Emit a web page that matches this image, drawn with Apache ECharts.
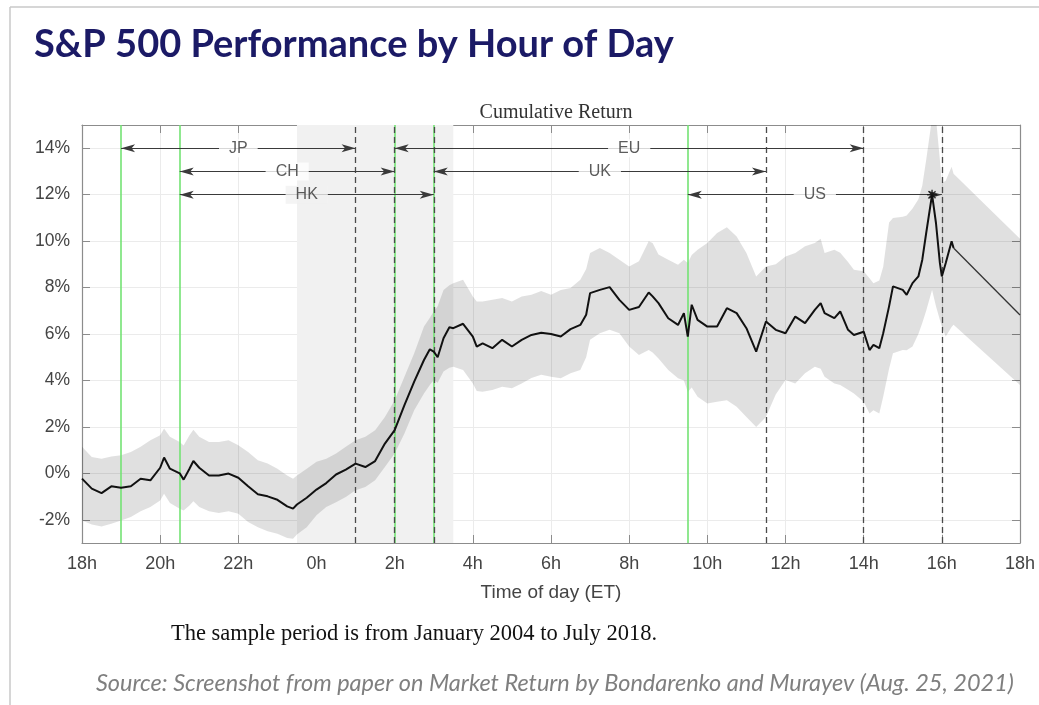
<!DOCTYPE html>
<html>
<head>
<meta charset="utf-8">
<script src="https://cdn.jsdelivr.net/npm/echarts@6/dist/echarts.min.js"></script>
<style>
  html, body { margin: 0; padding: 0; background: #fff; }
  #chart { width: 1039px; height: 705px; }
</style>
</head>
<body>
<div id="chart"></div>
<script>
// --- data: hours after 18:00 ET, cumulative return in % ---
const hours = [
  0, 0.25, 0.5, 0.75, 1, 1.25, 1.5, 1.75, 2, 2.1,
  2.25, 2.5, 2.6, 2.75, 2.85, 3, 3.25, 3.5, 3.75, 4,
  4.25, 4.5, 4.75, 5, 5.25, 5.4, 5.5, 5.75, 6, 6.25,
  6.5, 6.75, 7, 7.25, 7.5, 7.75, 8, 8.25, 8.5, 8.75,
  8.9, 9, 9.1, 9.25, 9.4, 9.5, 9.75, 10, 10.1, 10.25,
  10.5, 10.75, 11, 11.25, 11.5, 11.75, 12, 12.25, 12.5, 12.75,
  12.9, 13, 13.25, 13.5, 13.75, 14, 14.25, 14.5, 14.6, 14.75,
  15, 15.25, 15.4, 15.5, 15.6, 15.75, 16, 16.25, 16.5, 16.75,
  17, 17.25, 17.5, 17.75, 18, 18.25, 18.5, 18.75, 18.9, 19,
  19.25, 19.4, 19.6, 19.75, 20, 20.15, 20.25, 20.4, 20.5, 20.65,
  20.75, 21, 21.1, 21.25, 21.4, 21.5, 21.6, 21.75, 21.85, 21.95,
  22, 22.1, 22.25, 22.3, 24
]
const meanRet = [
  -0.23, -0.66, -0.85, -0.56, -0.62, -0.56, -0.23, -0.30, 0.24, 0.68,
  0.20, 0.00, -0.27, 0.20, 0.53, 0.24, -0.09, -0.09, -0.01, -0.19,
  -0.56, -0.90, -0.99, -1.14, -1.42, -1.52, -1.34, -1.05, -0.70, -0.42,
  -0.05, 0.16, 0.42, 0.27, 0.53, 1.28, 1.86, 2.94, 3.95, 4.88,
  5.34, 5.24, 5.00, 5.82, 6.29, 6.25, 6.44, 5.89, 5.46, 5.60,
  5.39, 5.75, 5.46, 5.75, 5.96, 6.05, 6.00, 5.89, 6.21, 6.39,
  6.83, 7.76, 7.90, 8.02, 7.47, 7.04, 7.16, 7.79, 7.62, 7.33,
  6.68, 6.39, 6.90, 5.89, 7.26, 6.61, 6.32, 6.32, 7.11, 6.90,
  6.25, 5.24, 6.54, 6.18, 6.03, 6.75, 6.47, 7.04, 7.33, 6.90,
  6.68, 6.97, 6.18, 5.96, 6.10, 5.31, 5.53, 5.39, 6.03, 7.19,
  8.05, 7.90, 7.69, 8.19, 8.48, 9.20, 10.35, 12.00, 10.78, 9.06,
  8.48, 9.06, 9.99, 9.70, 6.82
]
const upperBand = [
  1.14, 0.70, 0.63, 0.73, 0.78, 0.92, 1.14, 1.42, 1.64, 1.93,
  1.57, 1.35, 1.20, 1.64, 1.88, 1.57, 1.35, 1.35, 1.42, 1.21,
  0.92, 0.56, 0.42, 0.20, -0.09, -0.23, -0.09, 0.20, 0.50, 0.63,
  0.85, 1.14, 1.43, 1.57, 1.86, 2.43, 3.15, 4.16, 5.17, 6.32,
  6.70, 6.97, 7.20, 7.90, 8.10, 8.19, 8.34, 7.62, 7.40, 7.40,
  7.47, 7.55, 7.40, 7.62, 7.69, 7.85, 7.69, 7.90, 7.98, 8.34,
  8.80, 9.49, 9.70, 9.49, 9.20, 8.91, 9.13, 9.99, 9.92, 9.42,
  9.20, 8.98, 9.20, 9.06, 9.40, 9.63, 9.92, 10.35, 10.60, 10.20,
  9.49, 8.48, 8.91, 9.00, 9.34, 9.49, 9.78, 9.92, 10.10, 9.49,
  9.63, 9.50, 9.10, 8.77, 8.70, 8.40, 8.19, 8.30, 8.90, 10.80,
  11.00, 11.05, 11.10, 11.40, 11.80, 12.40, 13.50, 15.30, 15.30, 13.50,
  12.50, 12.60, 13.20, 12.90, 10.10
]
const lowerBand = [
  -2.03, -2.20, -2.29, -2.17, -2.03, -1.88, -1.63, -1.45, -1.17, -0.88,
  -1.28, -1.53, -1.60, -1.38, -1.20, -1.45, -1.63, -1.71, -1.63, -1.74,
  -2.10, -2.32, -2.49, -2.60, -2.78, -2.82, -2.63, -2.32, -1.80, -1.45,
  -1.24, -1.02, -0.73, -0.59, -0.30, 0.27, 0.85, 1.71, 2.72, 3.44,
  3.80, 4.02, 3.90, 4.38, 4.55, 4.59, 4.45, 3.87, 3.55, 3.51,
  3.59, 3.73, 3.66, 3.87, 4.10, 4.25, 4.16, 4.09, 4.31, 4.45,
  5.00, 5.75, 6.03, 6.18, 6.03, 5.46, 5.10, 5.31, 5.20, 4.95,
  4.45, 4.09, 4.00, 3.50, 3.70, 3.30, 3.01, 3.08, 3.15, 2.87,
  2.43, 2.00, 2.43, 3.40, 4.02, 3.87, 4.31, 4.59, 4.50, 4.16,
  3.87, 3.80, 3.60, 3.44, 3.08, 2.58, 2.72, 2.58, 3.30, 4.50,
  5.17, 5.31, 5.30, 5.46, 6.00, 6.47, 7.00, 7.90, 7.20, 6.60,
  6.32, 5.89, 6.30, 6.40, 3.80
]

const yTicks = [-2, 0, 2, 4, 6, 8, 10, 12, 14]

// --- market sessions (hours after 18:00) ---
const sessionNames = ['JP', 'CH', 'HK', 'EU', 'UK', 'US']
const sessionStart = [1, 2.5, 2.5, 8, 9, 15.5]
const sessionEnd = [7, 8, 9, 20, 17.5, 22]
const sessionLevel = [14, 13, 12, 14, 13, 12]
const openLines = [1, 2.5, 8, 9, 15.5]
const closeLines = [7, 8, 9, 17.5, 20, 22]
const shadeRange = [5.5, 9.5]
const peakPoint = [21.75, 12]

// --- build series data ---
const pairs = (ys) => hours.map((h, i) => [h, ys[i]])
const cut = hours.indexOf(22.3)
const meanMain = pairs(meanRet).slice(0, cut + 1)
const meanTail = pairs(meanRet).slice(cut)

const SHADE = '#f1f1f1'
const GREEN = '#74e374'
const DASH = '#4a4a4a'
const AXIS = '#8c8c8c'
const GRIDC = '#ebebeb'
const SANS = '"Liberation Sans", Arial, sans-serif'

const hourLabel = (v) => ((v + 18) % 24) + 'h'

const labelData = sessionNames.map((n, i) => {
  const mid = (sessionStart[i] + sessionEnd[i]) / 2
  const inShade = mid >= shadeRange[0] && mid <= shadeRange[1]
  return {
    name: n,
    value: [mid, sessionLevel[i]],
    label: { backgroundColor: inShade ? SHADE : '#fff' }
  }
})

// confidence band: polygon through upper points, back along lower points
const renderBand = (params, api) => {
  const top = hours.map((h, i) => api.coord([h, upperBand[i]]))
  const bot = hours.map((h, i) => api.coord([h, lowerBand[i]])).reverse()
  return {
    type: 'polygon',
    shape: { points: top.concat(bot) },
    style: { fill: 'rgba(0,0,0,0.12)' }
  }
}

const chart = echarts.init(document.getElementById('chart'))

const option = {
  animation: false,
  backgroundColor: '#fff',
  title: [
    {
      text: 'S&P 500 Performance by Hour of Day',
      left: 29, top: 21,
      textStyle: { fontFamily: 'Lato, "Open Sans", sans-serif', fontWeight: 'bold', fontSize: 38, color: '#1b1a66' }
    },
    {
      text: 'Cumulative Return',
      left: 551, top: 98, textAlign: 'center',
      textStyle: { fontFamily: '"Liberation Serif", "DejaVu Serif", serif', fontWeight: 'normal', fontSize: 20, color: '#333' }
    },
    {
      text: 'The sample period is from January 2004 to July 2018.',
      left: 409, top: 618, textAlign: 'center',
      textStyle: { fontFamily: '"Liberation Serif", serif', fontWeight: 'normal', fontSize: 22.5, color: '#111' }
    },
    {
      text: 'Source: Screenshot from paper on Market Return by Bondarenko and Murayev (Aug. 25, 2021)',
      left: 91, top: 667,
      textStyle: { fontFamily: 'Lato, "Open Sans", sans-serif', fontStyle: 'italic', fontWeight: 'normal', fontSize: 23.5, color: '#7f7f7f' }
    }
  ],
  graphic: [
    { type: 'line', shape: { x1: 10, y1: 7, x2: 1039, y2: 7 }, style: { stroke: '#c8c8c8', lineWidth: 1.5 } },
    { type: 'line', shape: { x1: 10, y1: 7, x2: 10, y2: 705 }, style: { stroke: '#c8c8c8', lineWidth: 1.5 } }
  ],
  grid: { left: 82, right: 19, top: 125, bottom: 162 },
  xAxis: [
    {
      type: 'value', min: 0, max: 24, interval: 2,
      name: 'Time of day (ET)', nameLocation: 'middle', nameGap: 40,
      nameTextStyle: { fontFamily: SANS, fontSize: 19, color: '#444' },
      axisLine: { show: true, onZero: false, lineStyle: { color: AXIS, width: 1.2 } },
      axisTick: { show: true, inside: true, length: 8, lineStyle: { color: AXIS } },
      axisLabel: { formatter: hourLabel, fontFamily: SANS, fontSize: 18, color: '#444', margin: 12 },
      splitLine: { show: true, lineStyle: { color: GRIDC } }
    },
    {
      type: 'value', min: 0, max: 24, interval: 2, position: 'top',
      axisLine: { show: true, onZero: false, lineStyle: { color: AXIS, width: 1.2 } },
      axisTick: { show: true, inside: true, length: 8, lineStyle: { color: AXIS } },
      axisLabel: { show: false },
      splitLine: { show: false }
    }
  ],
  yAxis: [
    {
      type: 'value', min: -3, max: 15,
      axisLine: { show: true, onZero: false, lineStyle: { color: AXIS, width: 1.2 } },
      axisTick: { show: true, inside: true, length: 8, customValues: yTicks, lineStyle: { color: AXIS } },
      axisLabel: { customValues: yTicks, formatter: (v) => v + '%', fontFamily: SANS, fontSize: 17.5, color: '#444', margin: 12 },
      splitLine: { show: true, lineStyle: { color: GRIDC } }
    },
    {
      type: 'value', min: -3, max: 15, position: 'right',
      axisLine: { show: true, onZero: false, lineStyle: { color: AXIS, width: 1.2 } },
      axisTick: { show: true, inside: true, length: 8, customValues: yTicks, lineStyle: { color: AXIS } },
      axisLabel: { show: false, customValues: yTicks },
      splitLine: { show: false }
    }
  ],
  series: [
    {
      name: 'shade',
      type: 'line', data: [], z: 1, silent: true,
      markArea: {
        silent: true,
        itemStyle: { color: SHADE },
        data: [[{ xAxis: shadeRange[0] }, { xAxis: shadeRange[1] }]]
      }
    },
    {
      name: 'band',
      type: 'custom', data: [[0, 0]], z: 2, silent: true,
      clip: true,
      renderItem: renderBand
    },
    {
      name: 'opens',
      type: 'line', data: [], z: 3, silent: true,
      markLine: {
        silent: true, symbol: 'none', label: { show: false },
        lineStyle: { color: GREEN, type: 'solid', width: 1.6 },
        data: openLines.map((x) => ({ xAxis: x }))
      }
    },
    {
      name: 'closes',
      type: 'line', data: [], z: 4, silent: true,
      markLine: {
        silent: true, symbol: 'none', label: { show: false },
        lineStyle: { color: DASH, type: [6, 4], width: 1.3 },
        data: closeLines.map((x) => ({ xAxis: x }))
      }
    },
    {
      name: 'sessions',
      type: 'line', data: [], z: 4, silent: true,
      markLine: {
        silent: true, symbol: ['arrow', 'arrow'], symbolSize: [6, 14],
        label: { show: false },
        lineStyle: { color: '#3a3a3a', type: 'solid', width: 1 },
        data: sessionNames.map((n, i) => [
          { coord: [sessionStart[i], sessionLevel[i]] },
          { coord: [sessionEnd[i], sessionLevel[i]] }
        ])
      }
    },
    {
      name: 'mean',
      type: 'line', data: meanMain, z: 5,
      symbol: 'none', silent: true,
      lineStyle: { color: '#111', width: 2 }
    },
    {
      name: 'meanTail',
      type: 'line', data: meanTail, z: 5,
      symbol: 'none', silent: true,
      lineStyle: { color: '#333', width: 1.3 }
    },
    {
      name: 'peak',
      type: 'scatter', data: [peakPoint], z: 6, silent: true,
      symbol: 'path://M5,0L5,10M0,5L10,5M1.5,1.5L8.5,8.5M1.5,8.5L8.5,1.5',
      symbolSize: 10,
      itemStyle: { color: 'none', borderColor: '#111', borderWidth: 1.5 }
    },
    {
      name: 'labels',
      type: 'scatter', data: labelData, z: 7, silent: true,
      symbolSize: 0,
      label: {
        show: true, position: 'inside', formatter: '{b}',
        fontFamily: SANS, fontSize: 16, color: '#333',
        padding: [1, 10]
      }
    }
  ]
}

chart.setOption(option)
window.addEventListener('resize', () => chart.resize())
</script>
</body>
</html>
